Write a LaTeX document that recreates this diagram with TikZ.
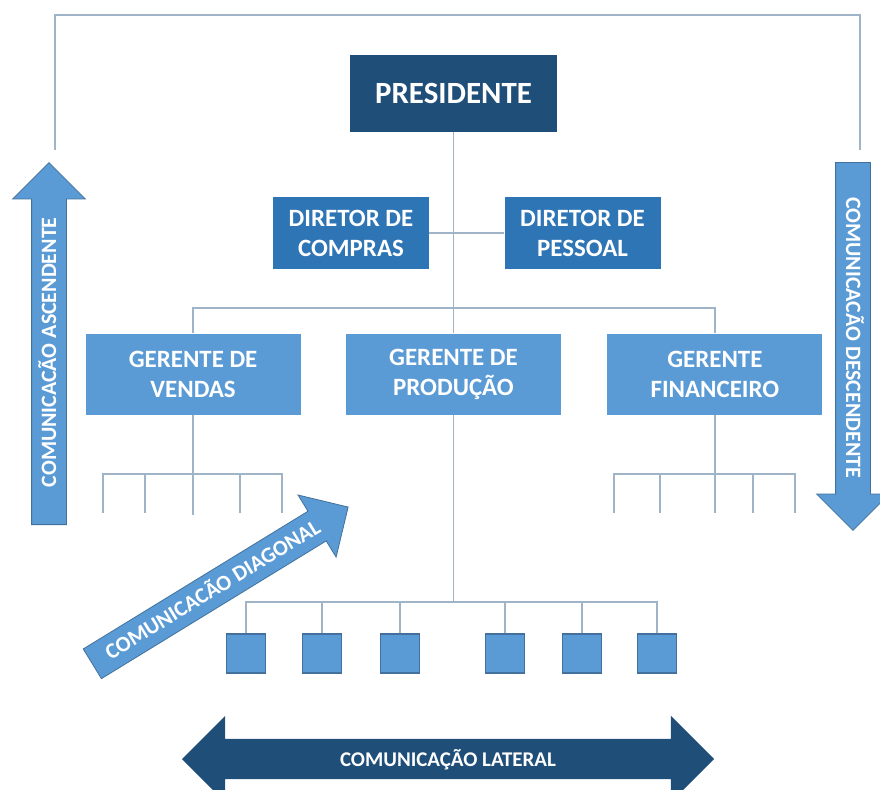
\documentclass[tikz,border=0pt]{standalone}
\usepackage{fontspec}
\setmainfont{Carlito}
\usepackage{tikz}
\definecolor{navyblue}{RGB}{31,78,121}
\definecolor{midblue}{RGB}{46,117,182}
\definecolor{lightblue}{RGB}{91,155,213}
\definecolor{edgeblue}{RGB}{65,113,156}
\definecolor{linkgray}{RGB}{160,180,200}
\usetikzlibrary{shapes.arrows, positioning}

\begin{document}
\begin{tikzpicture}[
    x=1bp, y=-1bp,
    node distance=45bp,
    topbox/.style={rectangle, fill=navyblue, text=white,
                   minimum width=207bp, minimum height=77bp, align=center,
                   font=\fontsize{31}{36}\selectfont\bfseries},
    dirbox/.style={rectangle, fill=midblue, text=white,
                   minimum width=156bp, minimum height=72bp, align=center,
                   font=\fontsize{25}{30}\selectfont\bfseries},
    mgrbox/.style={rectangle, fill=lightblue, text=white,
                   minimum width=215bp, minimum height=81bp, align=center,
                   font=\fontsize{25}{30}\selectfont\bfseries},
    unitbox/.style={rectangle, fill=lightblue, draw=edgeblue, line width=1.2bp,
                    minimum size=39bp, inner sep=0pt},
    flow/.style={single arrow, single arrow head extend=19bp,
                 fill=lightblue, draw=edgeblue, line width=0.8bp, text=white,
                 inner xsep=0pt, inner ysep=10bp, text height=14bp, text depth=0pt,
                 font=\fontsize{22}{22}\selectfont\bfseries},
    link/.style={draw=linkgray, line width=1.6bp}
]
    \useasboundingbox (0,0) rectangle (880,790);

    % chart boxes
    \node[topbox] (pres) at (453.5,93.5) {PRESIDENTE};
    \node[dirbox] (dcomp) at (351,233) {DIRETOR DE\\COMPRAS};
    \node[dirbox] (dpes) at (582.5,233) {DIRETOR DE\\PESSOAL};
    \node[mgrbox] (gprod) at (453.5,374) {GERENTE DE\\PRODUÇÃO};
    \node[mgrbox, left=45bp of gprod] (gvend) {GERENTE DE\\VENDAS};
    \node[mgrbox, right=46bp of gprod] (gfin) {GERENTE\\FINANCEIRO};
    \foreach \x [count=\i] in {246,322,400,505,582,657}
        \node[unitbox] (u\i) at (\x,653.5) {};

    % communication arrows
    \node[flow, rotate=90, anchor=tail, minimum height=362bp] (asc) at (49,525)
        {COMUNICACÃO ASCENDENTE};
    \node[flow, rotate=-90, anchor=tail, minimum height=368bp] (desc) at (853,162)
        {COMUNICACÃO DESCENDENTE};
    \node[flow, rotate=31.5, anchor=tail, minimum height=300bp] (diag) at (92,664)
        {COMUNICACÃO DIAGONAL};
    \node[double arrow, double arrow head extend=23bp, fill=navyblue, text=white,
          minimum height=532bp, inner xsep=0pt, inner ysep=13bp,
          text height=14bp, text depth=0pt,
          font=\fontsize{21}{21}\selectfont\bfseries] (lat) at (448,759)
        {COMUNICAÇÃO LATERAL};

    % connectors
    \coordinate (upl) at (55,150);
    \coordinate (upr) at (860,150);
    \coordinate (mbar) at (453.5,308);
    \coordinate (pbar) at (453.5,602);
    \draw[link] (upl) -- ++(0,-135) -| (upr);
    \draw[link] (pres.south) -- (gprod.north);
    \draw[link] (dcomp.east) -- (dpes.west);
    \draw[link] (gvend.north) |- (mbar) -| (gfin.north);

    \draw[link] (gvend.south) -- ++(0,100);
    \draw[link] (103,513) -- (103,474) -- (282,474) -- (282,513);
    \foreach \x in {145,240}
        \draw[link] (\x,474) -- (\x,513);

    \draw[link] (gfin.south) -- ++(0,98);
    \draw[link] (614,513) -- (614,474) -- (795,474) -- (795,513);
    \foreach \x in {660,753}
        \draw[link] (\x,474) -- (\x,513);

    \draw[link] (gprod.south) -- (pbar);
    \draw[link] (u1.north) |- (pbar) -| (u6.north);
    \foreach \i in {2,...,5}
        \draw[link] (u\i.north) -- ++(0,-31);
\end{tikzpicture}
\end{document}
